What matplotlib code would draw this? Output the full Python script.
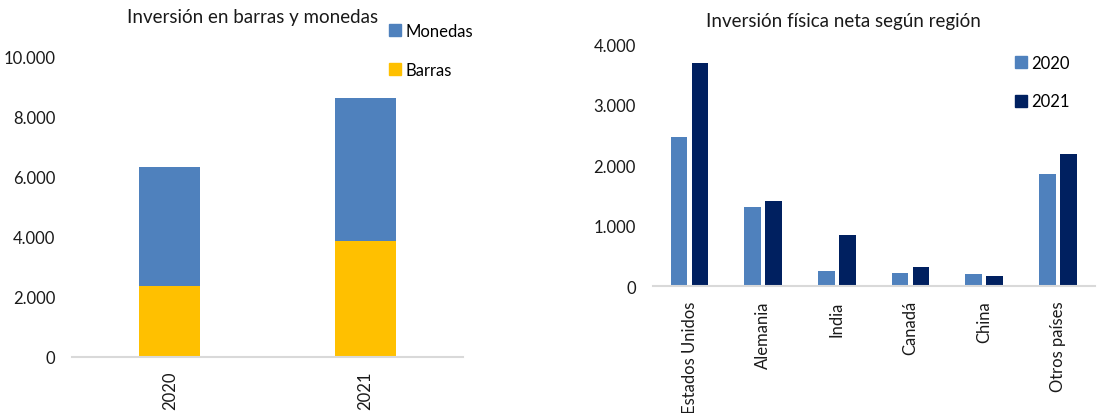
import matplotlib
matplotlib.use("Agg")
import matplotlib.pyplot as plt
import numpy as np
from matplotlib.patches import Patch
from matplotlib.ticker import FuncFormatter

plt.rcParams['font.family'] = ['Lato', 'DejaVu Sans']

# Left chart data
years = ["2020", "2021"]
barras = [2380, 3860]
monedas = [3970, 4780]

# Right chart data
regions = ["Estados Unidos", "Alemania", "India", "Canadá", "China", "Otros países"]
val_2020 = [2465, 1310, 255, 220, 200, 1860]
val_2021 = [3685, 1405, 850, 320, 178, 2188]

C_MON = "#4F81BD"
C_BAR = "#FFC000"
C_2020 = "#4F81BD"
C_2021 = "#002060"
AXC = "#D9D9D9"
FS = 12
TFS = 13.5

W, H = 1105, 414
fig = plt.figure(figsize=(W / 100, H / 100), dpi=100)

def fmt(v, pos):
    return f"{int(v):,}".replace(",", ".")

def style(ax):
    for s in ["top", "right", "left"]:
        ax.spines[s].set_visible(False)
    ax.spines["bottom"].set_color(AXC)
    ax.spines["bottom"].set_linewidth(1.5)
    ax.tick_params(axis="both", length=0, labelsize=FS, colors="#1a1a1a")
    ax.tick_params(axis="y", pad=12)
    ax.tick_params(axis="x", pad=10, labelrotation=90)
    ax.yaxis.set_major_formatter(FuncFormatter(fmt))
    ax.set_facecolor("none")

# Left axes
ax1 = fig.add_axes([72 / W, 1 - 358 / H, 391 / W, 300 / H])
x1 = np.arange(len(years))
ax1.bar(x1, barras, width=0.31, color=C_BAR, label="Barras")
ax1.bar(x1, monedas, width=0.31, bottom=barras, color=C_MON, label="Monedas")
ax1.set_xlim(-0.5, 1.5)
ax1.set_ylim(0, 10000)
ax1.set_yticks([0, 2000, 4000, 6000, 8000, 10000])
ax1.set_xticks(x1)
ax1.set_xticklabels(years)
style(ax1)
fig.text(253 / W, 1 - 17 / H, "Inversión en barras y monedas", ha="center", va="center", fontsize=TFS, color="#1a1a1a")
h1 = [Patch(color=C_MON), Patch(color=C_BAR)]
fig.legend(h1, ["Monedas", "Barras"], loc="upper left",
           bbox_to_anchor=(389 / W, 1 - 24 / H), frameon=False, fontsize=FS,
           handlelength=0.7, handleheight=0.7, handletextpad=0.3,
           labelspacing=1.35, borderpad=0, borderaxespad=0)

# Right axes
ax2 = fig.add_axes([652.7 / W, 1 - 287.3 / H, 442 / W, 242.3 / H])
x2 = np.arange(len(regions))
ax2.bar(x2 - 0.142, val_2020, width=0.227, color=C_2020, label="2020")
ax2.bar(x2 + 0.142, val_2021, width=0.227, color=C_2021, label="2021")
ax2.set_xlim(-0.5, len(regions) - 0.5)
ax2.set_ylim(0, 4000)
ax2.set_yticks([0, 1000, 2000, 3000, 4000])
ax2.set_xticks(x2)
ax2.set_xticklabels(regions)
style(ax2)
fig.text(843 / W, 1 - 21 / H, "Inversión física neta según región", ha="center", va="center", fontsize=TFS, color="#1a1a1a")
h2 = [Patch(color=C_2020), Patch(color=C_2021)]
fig.legend(h2, ["2020", "2021"], loc="upper left",
           bbox_to_anchor=(1015 / W, 1 - 56 / H), frameon=False, fontsize=FS,
           handlelength=0.7, handleheight=0.7, handletextpad=0.3,
           labelspacing=1.35, borderpad=0, borderaxespad=0)

fig.savefig("out.png", dpi=100, facecolor="white")
